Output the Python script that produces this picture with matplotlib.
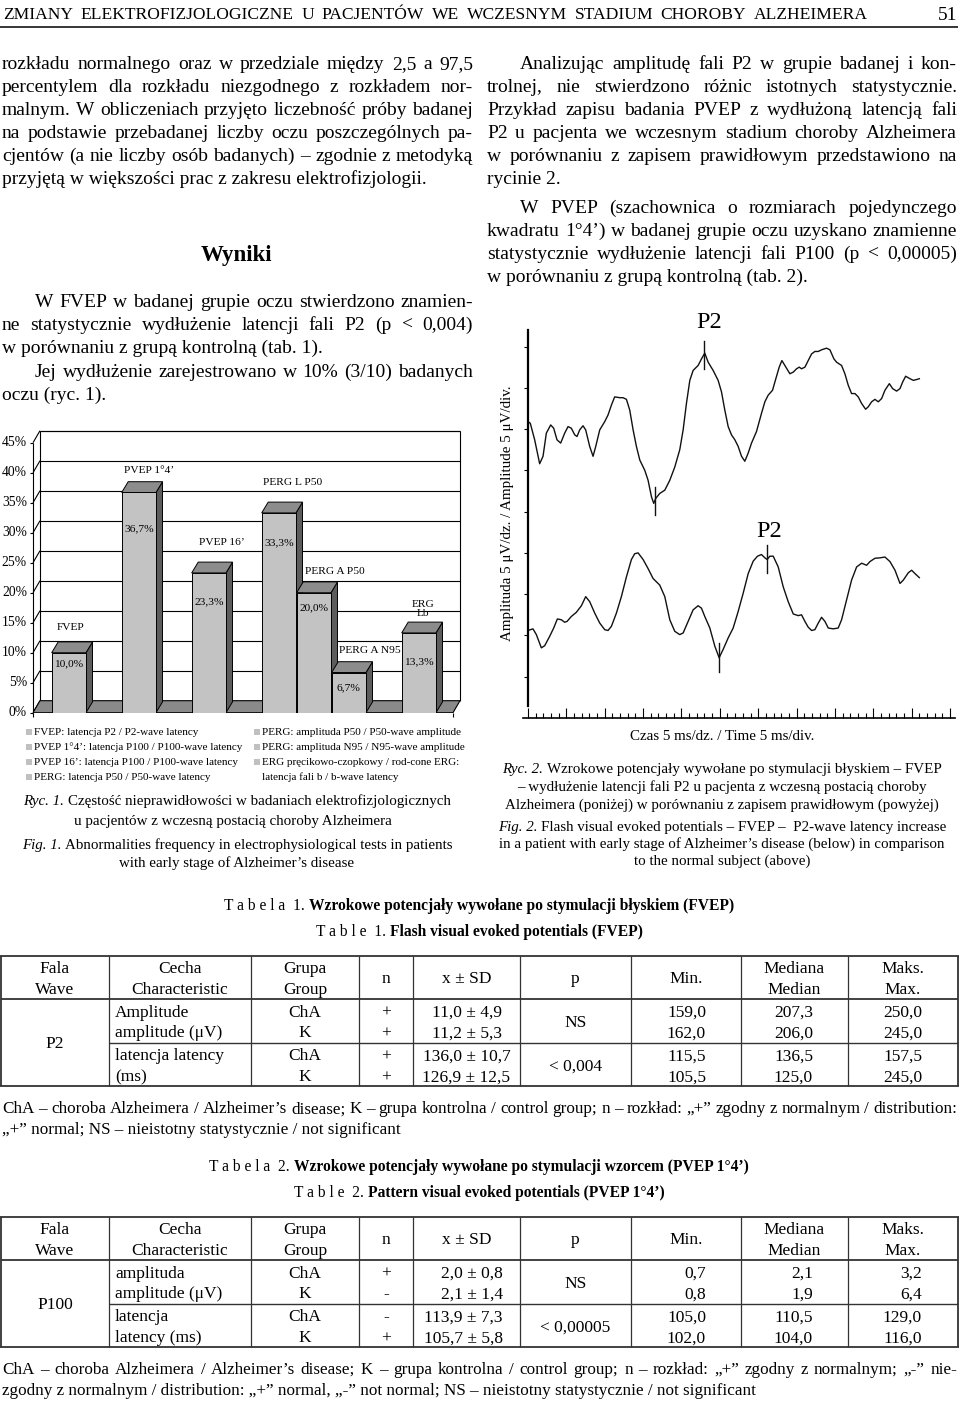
import matplotlib
matplotlib.use("Agg")
import numpy as np
import matplotlib.pyplot as plt
from matplotlib.transforms import Affine2D
from matplotlib.patches import Polygon, Rectangle
from matplotlib.lines import Line2D
from matplotlib.font_manager import FontProperties
from matplotlib.ticker import MultipleLocator

# ======================= DATA =======================
bar_categories = ["FVEP", "PVEP 1°4’", "PVEP 16’", "PERG L P50", "PERG A P50", "PERG A N95", "ERG\nLb"]
bar_groups = [0, 1, 2, 3, 3, 3, 4]
bar_values = [10.0, 36.7, 23.3, 33.3, 20.0, 6.7, 13.3]
pct_ticks = [0, 5, 10, 15, 20, 25, 30, 35, 40, 45]

legend_left = ["FVEP: latencja P2 / P2-wave latency",
               "PVEP 1°4’: latencja P100 / P100-wave latency",
               "PVEP 16’: latencja P100 / P100-wave latency",
               "PERG: latencja P50 / P50-wave latency"]
legend_right = ["PERG: amplituda P50 / P50-wave amplitude",
                "PERG: amplituda N95 / N95-wave amplitude",
                "ERG pręcikowo-czopkowy / rod-cone ERG:",
                "latencja fali b / b-wave latency"]

# FVEP traces (time in ms, amplitude in µV)
upper_t = [0, 0.3, 0.87, 1.52, 1.96, 2.39, 2.96, 3.35, 3.78, 4.26, 4.78, 5.22, 5.65, 6.09, 6.39, 6.74,
           7.17, 7.52, 8.04, 8.48, 8.83, 9.35, 10.0, 10.43, 10.87, 11.3, 11.96, 12.39, 12.83, 13.26,
           13.7, 14.13, 14.57, 15.22, 15.65, 16.09, 16.39, 16.65, 17.17, 17.83, 18.48, 19.13, 19.78,
           20.22, 20.65, 21.09, 21.52, 22.17, 22.61, 23.04, 23.48, 24.13, 24.78, 25.22, 25.65, 26.09,
           26.52, 26.96, 27.39, 27.83, 28.26, 28.7, 29.13, 29.78, 30.43, 30.87, 31.3, 31.87, 32.3,
           32.74, 33.09, 33.48, 34.13, 34.57, 35.0, 35.35, 35.65, 36.09, 36.52, 36.96, 37.39, 37.83,
           38.26, 38.91, 39.35, 39.87, 40.22, 40.87, 41.3, 41.74, 42.17, 42.61, 43.04, 43.48, 44.0,
           44.35, 44.78, 45.22, 45.65, 46.09, 46.52, 47.09, 47.52, 48.04, 48.48, 48.83, 49.22, 49.78,
           50.22, 50.65, 51.0]
upper_a = [35.9, 35.7, 33.7, 30.8, 31.7, 34.5, 35.5, 35.1, 33.7, 33.3, 34.5, 35.3, 35.1, 34.3, 34.1, 34.9,
           35.4, 34.9, 32.9, 31.7, 32.9, 34.9, 35.9, 36.7, 37.9, 38.9, 38.8, 38.8, 38.6, 37.3,
           34.9, 32.9, 31.25, 30.0, 28.8, 26.8, 26.0, 26.6, 27.2, 27.6, 28.8, 30.4, 32.5,
           34.9, 38.1, 40.9, 42.1, 42.7, 43.5, 44.2, 43.1, 42.1, 40.9, 39.5, 37.3, 35.3,
           34.3, 33.7, 32.9, 31.7, 31.1, 32.1, 33.3, 34.7, 36.9, 38.3, 39.1, 39.7, 41.1,
           42.5, 43.3, 42.7, 41.7, 41.9, 42.3, 42.5, 42.3, 42.5, 43.3, 44.1, 44.4, 44.4,
           44.6, 44.8, 44.6, 43.5, 43.1, 42.7, 41.7, 40.3, 39.3, 39.3, 38.9, 38.1, 37.4,
           37.7, 38.3, 38.6, 38.3, 38.7, 39.7, 40.5, 39.9, 39.6, 39.9, 40.7, 41.4, 41.1,
           40.9, 41.0, 41.1]
lower_t = [0, 0.65, 1.09, 1.74, 2.17, 2.83, 3.35, 3.83, 4.35, 4.78, 5.09, 5.65, 6.3, 6.96, 7.52, 8.04,
           8.7, 9.35, 10.0, 10.43, 10.87, 11.52, 12.17, 12.83, 13.48, 13.91, 14.35, 15.0, 15.65, 16.3,
           17.17, 17.83, 18.48, 19.13, 19.78, 20.22, 20.87, 21.52, 22.17, 22.61, 23.04, 23.7, 24.35,
           24.91, 25.43, 26.09, 26.74, 27.39, 28.04, 28.7, 29.35, 29.91, 30.43, 30.87, 31.17, 31.52,
           31.96, 32.61, 33.26, 33.91, 34.57, 35.22, 35.65, 36.09, 36.52, 36.96, 37.39, 37.83, 38.26,
           38.7, 39.13, 39.78, 40.43, 40.87, 41.52, 42.17, 42.83, 43.48, 44.13, 44.57, 45.22, 45.87,
           46.52, 47.17, 47.83, 48.48, 48.91, 49.57, 50.0, 50.43, 51.0]
lower_a = [10.6, 10.8, 10.1, 8.5, 8.75, 9.9, 10.9, 12.0, 11.9, 11.6, 11.7, 12.3, 12.8, 13.6, 14.7, 14.1,
           12.7, 11.5, 10.7, 10.6, 11.1, 12.7, 14.7, 17.1, 19.2, 19.9, 20.0, 19.2, 18.1, 16.9,
           16.1, 14.7, 11.9, 10.5, 10.1, 10.3, 11.7, 13.1, 13.6, 13.3, 12.3, 10.9, 8.7,
           7.3, 8.3, 9.7, 10.9, 12.9, 15.1, 17.5, 19.0, 19.6, 19.8, 19.4, 19.2, 19.6,
           19.6, 18.3, 15.9, 14.1, 12.6, 12.4, 12.5, 11.7, 11.0, 10.6, 10.7, 11.5, 12.2,
           11.7, 10.9, 10.8, 10.9, 11.9, 14.3, 16.7, 18.3, 18.75, 18.5, 18.95, 19.35, 19.4,
           19.5, 18.95, 17.9, 16.3, 16.7, 17.6, 17.9, 17.5, 17.0]
upper_marks_t = [16.5, 22.9]
lower_marks_t = [24.9, 31.2]

# Table 1 (FVEP)
t_header = ["Fala\nWave", "Cecha\nCharacteristic", "Grupa\nGroup", "n", "x ± SD", "p", "Min.",
            "Mediana\nMedian", "Maks.\nMax."]
t1_wave = "P2"
t1_char = ["Amplitude", "amplitude (μV)", "latencja latency", "(ms)"]
t1_group = ["ChA", "K", "ChA", "K"]
t1_n = ["+", "+", "+", "+"]
t1_msd = ["11,0 ± 4,9", "11,2 ± 5,3", "136,0 ± 10,7", "126,9 ± 12,5"]
t1_p = ["NS", "< 0,004"]
t1_min = ["159,0", "162,0", "115,5", "105,5"]
t1_med = ["207,3", "206,0", "136,5", "125,0"]
t1_max = ["250,0", "245,0", "157,5", "245,0"]
# Table 2 (PVEP 1°4')
t2_wave = "P100"
t2_char = ["amplituda", "amplitude (μV)", "latencja", "latency (ms)"]
t2_group = ["ChA", "K", "ChA", "K"]
t2_n = ["+", "-", "-", "+"]
t2_msd = ["2,0 ± 0,8", "2,1 ± 1,4", "113,9 ± 7,3", "105,7 ± 5,8"]
t2_p = ["NS", "< 0,00005"]
t2_min = ["0,7", "0,8", "105,0", "102,0"]
t2_med = ["2,1", "1,9", "110,5", "104,0"]
t2_max = ["3,2", "6,4", "129,0", "116,0"]

# ======================= FIGURE SETUP =======================
W, H = 960, 1401
fig = plt.figure(figsize=(W / 100, H / 100), dpi=100)
fig.patch.set_facecolor("white")
PX = Affine2D().scale(1 / W, -1 / H).translate(0, 1) + fig.transFigure
renderer = fig.canvas.get_renderer()
SERIF = "Liberation Serif"


def em(size):
    return size * 100 / 72


def measure(s, size, weight="normal", style="normal"):
    prop = FontProperties(family=SERIF, size=size, weight=weight, style=style)
    w, h, d = renderer.get_text_width_height_descent(s, prop, ismath=False)
    return w


def txt(x, y, s, size, ha="left", va="baseline", weight="normal", style="normal", rotation=0):
    return fig.text(x, y, s, transform=PX, fontsize=size, family=SERIF, ha=ha, va=va,
                    weight=weight, style=style, rotation=rotation, color="black")


def line_text(s, x0, x1, yc, size, justify=False, indent=0, weight="normal"):
    base = yc + 0.3 * em(size)
    if not justify:
        txt(x0 + indent, base, s, size, weight=weight)
        return
    words = s.split(" ")
    ws = [measure(w_, size, weight) for w_ in words]
    avail = x1 - x0 - indent
    while sum(ws) + 0.14 * em(size) * (len(words) - 1) > avail:
        size *= 0.99
        ws = [measure(w_, size, weight) for w_ in words]
    gap = (avail - sum(ws)) / (len(words) - 1)
    x = x0 + indent
    for w_, wd in zip(words, ws):
        txt(x, base, w_, size, weight=weight)
        x += wd + gap


def runs_center(runs, xc, yc, size):
    ws = [measure(t, size, wt, st) for t, st, wt in runs]
    sp = 0.25 * em(size)
    total = sum(ws) + sp * (len(runs) - 1)
    x = xc - total / 2
    base = yc + 0.3 * em(size)
    for (t, st, wt), wd in zip(runs, ws):
        txt(x, base, t, size, style=st, weight=wt)
        x += wd + sp


def hline(x0, x1, y, lw=1.0, color="black"):
    fig.add_artist(Line2D([x0, x1], [y, y], transform=PX, lw=lw, color=color, solid_capstyle="butt"))


def vline(x, y0, y1, lw=1.0, color="black"):
    fig.add_artist(Line2D([x, x], [y0, y1], transform=PX, lw=lw, color=color, solid_capstyle="butt"))


# ======================= HEADER =======================
line_text("ZMIANY ELEKTROFIZJOLOGICZNE U PACJENTÓW WE WCZESNYM STADIUM CHOROBY ALZHEIMERA",
          3, 868, 14, 12.6, justify=True)
txt(957, 14 + 0.33 * em(14), "51", 14, ha="right")
hline(0, 958, 26.5, lw=1.1)

# ======================= BODY TEXT =======================
BODY = 14.0
LX0, LX1 = 2, 473
RX0, RX1 = 487, 957
left_lines = [
    ("rozkładu normalnego oraz w przedziale między 2,5 a 97,5", True, 0, 63),
    ("percentylem dla rozkładu niezgodnego z rozkładem nor-", True, 0, 86),
    ("malnym. W obliczeniach przyjęto liczebność próby badanej", True, 0, 109),
    ("na podstawie przebadanej liczby oczu poszczególnych pa-", True, 0, 132),
    ("cjentów (a nie liczby osób badanych) – zgodnie z metodyką", True, 0, 155),
    ("przyjętą w większości prac z zakresu elektrofizjologii.", False, 0, 178),
    ("W FVEP w badanej grupie oczu stwierdzono znamien-", True, 33, 301),
    ("ne statystycznie wydłużenie latencji fali P2 (p < 0,004)", True, 0, 324),
    ("w porównaniu z grupą kontrolną (tab. 1).", False, 0, 347),
    ("Jej wydłużenie zarejestrowano w 10% (3/10) badanych", True, 33, 371),
    ("oczu (ryc. 1).", False, 0, 394),
]
for s, j, ind, y in left_lines:
    line_text(s, LX0, LX1, y, BODY, justify=j, indent=ind)
txt(236, 253 + 0.33 * em(16.5), "Wyniki", 16.5, ha="center", weight="bold")

right_lines = [
    ("Analizując amplitudę fali P2 w grupie badanej i kon-", True, 33, 63),
    ("trolnej, nie stwierdzono różnic istotnych statystycznie.", True, 0, 86),
    ("Przykład zapisu badania PVEP z wydłużoną latencją fali", True, 0, 109),
    ("P2 u pacjenta we wczesnym stadium choroby Alzheimera", True, 0, 132),
    ("w porównaniu z zapisem prawidłowym przedstawiono na", True, 0, 155),
    ("rycinie 2.", False, 0, 178),
    ("W PVEP (szachownica o rozmiarach pojedynczego", True, 33, 207),
    ("kwadratu 1°4’) w badanej grupie oczu uzyskano znamienne", True, 0, 230),
    ("statystycznie wydłużenie latencji fali P100 (p < 0,00005)", True, 0, 253),
    ("w porównaniu z grupą kontrolną (tab. 2).", False, 0, 276),
]
for s, j, ind, y in right_lines:
    line_text(s, RX0, RX1, y, BODY, justify=j, indent=ind)

# ======================= FIG 1: 3-D BAR CHART =======================
# slot positions derived from grouping (one empty slot between groups)
slots = [i + g for i, g in enumerate(bar_groups)]
X0, X1 = -0.534, 11.666       # front-left, back-right extents (slot units)
YTOP = 47.0
DX, DY = 0.2, 2.0             # wall depth
BW, BDX, BDY = 0.98, 0.186, 1.8

ax = fig.add_axes([33 / W, 1 - 712.7 / H, (460 - 33) / W, (712.7 - 430.7) / H])
ax.set_xlim(X0, X1)
ax.set_ylim(0, YTOP)
ax.axis("off")

lk = dict(color="black", lw=0.8, solid_capstyle="butt", clip_on=False)
# floor
ax.add_patch(Polygon([(X0, 0), (X1 - DX, 0), (X1, DY), (X0 + DX, DY)], closed=True,
                     fc="#8a8a8a", ec="black", lw=0.8, zorder=1.5))
# back wall, left wall, grid
for g in pct_ticks:
    if g > 0:
        ax.plot([X0 + DX, X1], [g + DY, g + DY], zorder=1, **lk)
    ax.plot([X0, X0 + DX], [g, g + DY], zorder=1, **lk)
    ax.plot([X0 - 0.09, X0], [g, g], zorder=1, **lk)
    ax.text(-0.706, g, f"{g}%", ha="right", va="center", fontsize=9.8, family=SERIF, clip_on=False)
ax.plot([X0, X0], [0, 45], zorder=1, **lk)
ax.plot([X0 + DX, X0 + DX], [DY, YTOP], zorder=1, **lk)
ax.plot([X1, X1], [DY, YTOP], zorder=1, **lk)
ax.plot([X0 + DX, X1], [YTOP, YTOP], zorder=1, **lk)
for xb in (X0, X1 - DX):
    ax.plot([xb, xb], [0, -0.7], zorder=1, **lk)

cat_off = [(2, 25), (10, 22), (13, 30), (14, 30), (21, 21), (21, 22), (4, 24)]
val_off = [(0, -11), (0, -36), (0, -29), (0, -30), (0, -15), (0, -15.5), (0, -29)]
for k, (x, v) in enumerate(zip(slots, bar_values)):
    z = 3 + 0.1 * k
    ax.add_patch(Polygon([(x + BW, 0), (x + BW + BDX, BDY), (x + BW + BDX, v + BDY), (x + BW, v)],
                         closed=True, fc="#5c5c5c", ec="black", lw=0.7, zorder=z))
    ax.add_patch(Polygon([(x, v), (x + BW, v), (x + BW + BDX, v + BDY), (x + BDX, v + BDY)],
                         closed=True, fc="#8c8c8c", ec="black", lw=0.7, zorder=z))
    ax.add_patch(Rectangle((x, 0), BW, v, fc="#c3c3c3", ec="black", lw=0.7, zorder=z))
    cx = x + BW / 2
    ax.annotate(bar_categories[k], xy=(cx, v), xytext=cat_off[k], textcoords="offset pixels",
                ha="center", va="center", fontsize=8.2, family=SERIF, linespacing=0.95,
                annotation_clip=False, zorder=10)
    ax.annotate(f"{v:.1f}%".replace(".", ","), xy=(cx, v), xytext=val_off[k],
                textcoords="offset pixels", ha="center", va="center", fontsize=8.2,
                family=SERIF, annotation_clip=False, zorder=10)

# legend
LEG = 8.0
for i, s in enumerate(legend_left):
    y = 732 + 15 * i
    fig.add_artist(Rectangle((26, y - 3), 6, 6, transform=PX, fc="#c0c0c0", ec="none"))
    txt(34, y + 0.3 * em(LEG), s, LEG)
for i, s in enumerate(legend_right):
    y = 732 + 15 * i
    if i < 3:
        fig.add_artist(Rectangle((254, y - 3), 6, 6, transform=PX, fc="#c0c0c0", ec="none"))
    txt(262, y + 0.3 * em(LEG), s, LEG)

CAP = 10.8
runs_center([("Ryc. 1.", "italic", "normal"),
             ("Częstość nieprawidłowości w badaniach elektrofizjologicznych", "normal", "normal")],
            237, 801, CAP)
runs_center([("u pacjentów z wczesną postacią choroby Alzheimera", "normal", "normal")], 233, 820, CAP)
runs_center([("Fig. 1.", "italic", "normal"),
             ("Abnormalities frequency in electrophysiological tests in patients", "normal", "normal")],
            237, 844.5, CAP)
runs_center([("with early stage of Alzheimer’s disease", "normal", "normal")], 237, 862.5, CAP)

# ======================= FIG 2: WAVEFORMS =======================
wx = fig.add_axes([523 / W, 1 - 718 / H, (955 - 523) / W, (718 - 330) / H])
wx.set_xlim(-0.65, 55.65)
wx.set_ylim(0, 47)
wx.patch.set_alpha(0)
for sp in ("top", "right"):
    wx.spines[sp].set_visible(False)
wx.spines["left"].set_position(("data", 0))
wx.spines["left"].set_bounds(1.4, 47)
wx.spines["left"].set_linewidth(1.6)
wx.spines["bottom"].set_linewidth(1.2)
wx.xaxis.set_major_locator(MultipleLocator(5))
wx.xaxis.set_minor_locator(MultipleLocator(1))
wx.set_yticks([5, 10, 15, 20, 25, 30, 35, 40, 45])
wx.tick_params(axis="x", which="major", direction="in", length=7.2, width=0.8, labelbottom=False)
wx.tick_params(axis="x", which="minor", direction="in", length=3.6, width=0.8)
wx.tick_params(axis="y", direction="out", length=2.6, width=0.8, labelleft=False)
wx.plot(upper_t, upper_a, color="#111111", lw=1.0)
wx.plot(lower_t, lower_a, color="#111111", lw=1.0)
for tm in upper_marks_t:
    c = np.interp(tm, upper_t, upper_a)
    wx.plot([tm, tm], [c - 1.7, c + 1.7], color="#111111", lw=1.0)
for tm in lower_marks_t:
    c = np.interp(tm, lower_t, lower_a)
    wx.plot([tm, tm], [c - 1.7, c + 1.7], color="#111111", lw=1.0)
wx.text(23.6, 47.25, "P2", fontsize=17.5, family=SERIF, ha="center", va="baseline", clip_on=False)
wx.text(31.4, 21.95, "P2", fontsize=17.5, family=SERIF, ha="center", va="baseline", clip_on=False)

txt(507, 513, "Amplituda 5 μV/dz. / Amplitude 5 μV/div.", 10.8, ha="center", va="center", rotation=90)
runs_center([("Czas 5 ms/dz. / Time 5 ms/div.", "normal", "normal")], 722, 736, 10.8)

runs_center([("Ryc. 2.", "italic", "normal"),
             ("Wzrokowe potencjały wywołane po stymulacji błyskiem – FVEP", "normal", "normal")],
            722, 769, CAP)
runs_center([("– wydłużenie latencji fali P2 u pacjenta z wczesną postacią choroby", "normal", "normal")],
            722, 787, CAP)
runs_center([("Alzheimera (poniżej) w porównaniu z zapisem prawidłowym (powyżej)", "normal", "normal")],
            722, 804, CAP)
runs_center([("Fig. 2.", "italic", "normal"),
             ("Flash visual evoked potentials – FVEP –  P2-wave latency increase", "normal", "normal")],
            722, 826, CAP)
runs_center([("in a patient with early stage of Alzheimer’s disease (below) in comparison", "normal", "normal")],
            722, 843, CAP)
runs_center([("to the normal subject (above)", "normal", "normal")], 722, 860, CAP)

# ======================= TABLES =======================
TF = 12.5
COLS = [1, 109, 251, 359, 413, 520, 631, 741, 848, 958]


def draw_table(top, title_pl, title_en, wave, chars, groups, ns, msd, ps, mins, meds, maxs,
               msd_right, foot1, foot2):
    TT = 11.2
    runs_center([(title_pl[0], "normal", "normal"), (title_pl[1], "normal", "bold")], 479, top - 50.7, TT)
    runs_center([(title_en[0], "normal", "normal"), (title_en[1], "normal", "bold")], 479, top - 24.5, TT)
    hdr = top + 43.3
    mid = top + 87
    bot = top + 130
    gray = "#333333"
    hline(COLS[0] - 1, COLS[-1] + 1, top, lw=1.3, color=gray)
    hline(COLS[0], COLS[-1], hdr, lw=1.3, color=gray)
    hline(COLS[1], COLS[-1], mid, lw=1.0, color=gray)
    hline(COLS[0] - 1, COLS[-1] + 1, bot, lw=1.3, color=gray)
    for i, cx in enumerate(COLS):
        vline(cx, top, bot, lw=1.3 if i in (0, len(COLS) - 1) else 0.9, color=gray)
    centers = [(COLS[i] + COLS[i + 1]) / 2 for i in range(len(COLS) - 1)]
    for i, h in enumerate(t_header):
        parts = h.split("\n")
        if len(parts) == 2:
            txt(centers[i], top + 12 + 0.3 * em(TF), parts[0], TF, ha="center")
            txt(centers[i], top + 32.6 + 0.3 * em(TF), parts[1], TF, ha="center")
        else:
            txt(centers[i], top + 22.3 + 0.3 * em(TF), parts[0], TF, ha="center")
    rows = [top + 56, top + 76.3, top + 99.3, top + 120.3]
    txt(centers[0], (hdr + bot) / 2 + 0.3 * em(TF), wave, TF, ha="center")
    for r, yr in enumerate(rows):
        b = yr + 0.3 * em(TF)
        txt(115, b, chars[r], TF)
        txt(centers[2], b, groups[r], TF, ha="center")
        txt(centers[3], b, ns[r], TF, ha="center")
        if msd_right:
            txt(503, b, msd[r], TF, ha="right")
        else:
            txt(centers[4], b, msd[r], TF, ha="center")
        txt(706, b, mins[r], TF, ha="right")
        txt(813, b, meds[r], TF, ha="right")
        txt(922, b, maxs[r], TF, ha="right")
    for k in range(2):
        yc = (rows[2 * k] + rows[2 * k + 1]) / 2
        txt(centers[5], yc + 0.3 * em(TF), ps[k], TF, ha="center")
    FN = 12.3
    line_text(foot1, 2, 957, bot + 22.3, FN, justify=True)
    line_text(foot2, 2, 957, bot + 43.3, FN, justify=False)


draw_table(955.7,
           ("T a b e l a  1.", "Wzrokowe potencjały wywołane po stymulacji błyskiem (FVEP)"),
           ("T a b l e  1.", "Flash visual evoked potentials (FVEP)"),
           t1_wave, t1_char, t1_group, t1_n, t1_msd, t1_p, t1_min, t1_med, t1_max, False,
           "ChA – choroba Alzheimera / Alzheimer’s disease; K – grupa kontrolna / control group; "
           "n – rozkład: „+” zgodny z normalnym / distribution:",
           "„+” normal; NS – nieistotny statystycznie / not significant")

draw_table(1216.7,
           ("T a b e l a  2.", "Wzrokowe potencjały wywołane po stymulacji wzorcem (PVEP 1°4’)"),
           ("T a b l e  2.", "Pattern visual evoked potentials (PVEP 1°4’)"),
           t2_wave, t2_char, t2_group, t2_n, t2_msd, t2_p, t2_min, t2_med, t2_max, True,
           "ChA – choroba Alzheimera / Alzheimer’s disease; K – grupa kontrolna / control group; "
           "n – rozkład: „+” zgodny z normalnym; „-” nie-",
           "zgodny z normalnym / distribution: „+” normal, „-” not normal; NS – nieistotny "
           "statystycznie / not significant")

fig.savefig("out.png", dpi=100, facecolor="white")
